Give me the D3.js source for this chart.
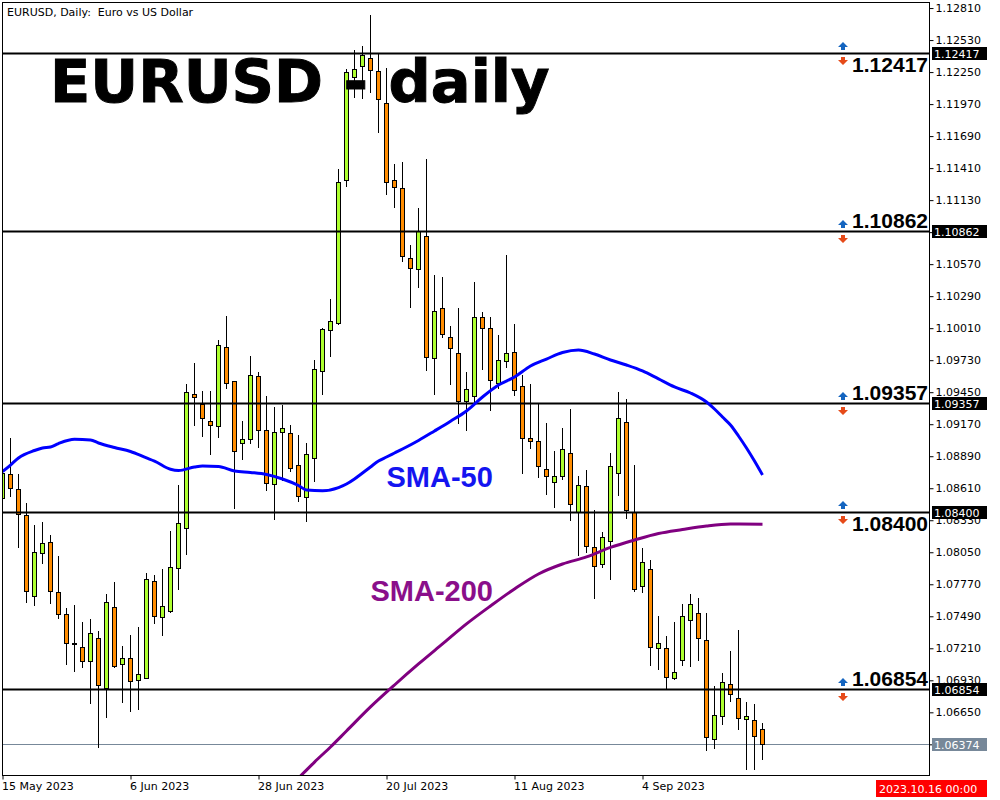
<!DOCTYPE html>
<html>
<head>
<meta charset="utf-8">
<script src="https://cdn.jsdelivr.net/npm/d3@7/dist/d3.min.js"></script>
<style>
body { margin: 0; background: #fff; }
</style>
</head>
<body>
<script>
var chartTitle = "EURUSD, Daily:  Euro vs US Dollar";
var bigTitle = "EURUSD - daily";
var firstDate = "2023-05-15";
var cursorLabel = "2023.10.16 00:00";

// daily candles, [open, high, low, close]
var candles = [
  [1.08525,1.08770,1.08507,1.08743],[1.08735,1.09049,1.08542,1.08612],[1.08603,1.08735,1.08096,1.08385],
  [1.08376,1.08481,1.07615,1.07711],[1.07667,1.08288,1.07589,1.08052],[1.08044,1.08315,1.07956,1.08131],
  [1.08140,1.08201,1.07606,1.07711],[1.07702,1.08017,1.07475,1.07510],[1.07510,1.07562,1.07073,1.07256],
  [1.07256,1.07589,1.07011,1.07248],[1.07221,1.07440,1.07046,1.07099],[1.07099,1.07466,1.06731,1.07344],
  [1.07300,1.07361,1.06347,1.06889],[1.06862,1.07685,1.06609,1.07615],[1.07571,1.07790,1.07046,1.07055],
  [1.07073,1.07230,1.06740,1.07125],[1.07125,1.07326,1.06661,1.06924],[1.06933,1.07396,1.06679,1.06985],
  [1.06950,1.07869,1.06950,1.07816],[1.07799,1.07851,1.07431,1.07492],[1.07484,1.07904,1.07326,1.07580],
  [1.07536,1.08236,1.07527,1.07921],[1.07912,1.08638,1.07729,1.08306],[1.08262,1.09522,1.08035,1.09452],
  [1.09434,1.09705,1.09163,1.09408],[1.09347,1.09461,1.09067,1.09224],[1.09198,1.09461,1.08910,1.09163],
  [1.09154,1.09907,1.09058,1.09863],[1.09845,1.10117,1.09487,1.09531],[1.09548,1.09548,1.08437,1.08936],
  [1.09006,1.09198,1.08866,1.09041],[1.09041,1.09767,1.09006,1.09601],[1.09592,1.09627,1.08971,1.09119],
  [1.09119,1.09417,1.08595,1.08656],[1.08647,1.09321,1.08341,1.09102],[1.09102,1.09338,1.08682,1.09137],
  [1.09093,1.09163,1.08761,1.08787],[1.08813,1.09076,1.08498,1.08542],[1.08533,1.09006,1.08323,1.08910],
  [1.08875,1.09732,1.08673,1.09653],[1.09636,1.10012,1.09434,1.10003],[1.09994,1.10265,1.09767,1.10073],
  [1.10055,1.11402,1.10047,1.11289],[1.11306,1.12277,1.11254,1.12251],[1.12207,1.12443,1.12032,1.12277],
  [1.12303,1.12478,1.12023,1.12400],[1.12373,1.12749,1.12076,1.12268],[1.12260,1.12408,1.11726,1.12015],
  [1.11980,1.12286,1.11184,1.11289],[1.11306,1.11446,1.11070,1.11245],[1.11236,1.11464,1.10598,1.10641],
  [1.10624,1.10738,1.10195,1.10536],[1.10528,1.11061,1.10370,1.10860],[1.10816,1.11490,1.09644,1.09758],
  [1.09749,1.10475,1.09434,1.10160],[1.10187,1.10458,1.09933,1.09959],[1.09933,1.10029,1.09522,1.09837],
  [1.09793,1.10187,1.09181,1.09373],[1.09373,1.09627,1.09119,1.09478],[1.09417,1.10414,1.09356,1.10108],
  [1.10108,1.10152,1.09653,1.10012],[1.10012,1.10108,1.09294,1.09557],[1.09531,1.09950,1.09487,1.09732],
  [1.09723,1.10650,1.09671,1.09793],[1.09802,1.10047,1.09426,1.09469],[1.09504,1.09601,1.08743,1.09049],
  [1.09049,1.09522,1.08962,1.09023],[1.09023,1.09356,1.08708,1.08805],[1.08778,1.09181,1.08560,1.08717],
  [1.08665,1.08936,1.08446,1.08717],[1.08717,1.09137,1.08691,1.08953],[1.08918,1.09303,1.08332,1.08472],
  [1.08402,1.08717,1.08026,1.08638],[1.08630,1.08770,1.08052,1.08105],[1.08096,1.08420,1.07650,1.07930],
  [1.07947,1.08227,1.07921,1.08184],[1.08149,1.08918,1.07816,1.08805],[1.08743,1.09452,1.08551,1.09224],
  [1.09189,1.09391,1.08350,1.08420],[1.08402,1.08813,1.07711,1.07729],[1.07755,1.08087,1.07702,1.07965],
  [1.07904,1.07982,1.07064,1.07221],[1.07213,1.07492,1.07029,1.07256],[1.07213,1.07318,1.06862,1.06959],
  [1.06950,1.07440,1.06941,1.07003],[1.07108,1.07597,1.07064,1.07492],[1.07457,1.07685,1.07055,1.07597],
  [1.07519,1.07650,1.07108,1.07300],[1.07283,1.07519,1.06320,1.06434],[1.06417,1.06880,1.06338,1.06626],
  [1.06618,1.06994,1.06548,1.06915],[1.06898,1.07186,1.06749,1.06810],[1.06775,1.07370,1.06504,1.06600],
  [1.06592,1.06740,1.06154,1.06618],[1.06583,1.06723,1.06154,1.06443],[1.06504,1.06557,1.06242,1.06374]
];

// moving averages, [bar, price]
var sma50 = [
  [0,1.08755],[1,1.08813],[2,1.08875],[4,1.08940],[5,1.08962],[6,1.08971],[7,1.09001],[9,1.09038],
  [11,1.09032],[12,1.09006],[14,1.08966],[16,1.08931],[18,1.08875],[19,1.08848],[21,1.08776],[22,1.08765],
  [24,1.08796],[25,1.08805],[27,1.08800],[29,1.08761],[31,1.08748],[33,1.08730],[35,1.08691],[37,1.08634],
  [38,1.08595],[40,1.08589],[42,1.08616],[43,1.08647],[44,1.08691],[45,1.08743],[46,1.08796],[47,1.08848],
  [48,1.08883],[49,1.08918],[50,1.08953],[52,1.09028],[54,1.09111],[56,1.09196],[58,1.09286],[60,1.09408],
  [62,1.09513],[64,1.09583],[66,1.09679],[68,1.09740],[70,1.09797],[72,1.09819],[74,1.09784],[76,1.09732],
  [78,1.09688],[80,1.09636],[82,1.09566],[84,1.09496],[86,1.09443],[88,1.09364],[89,1.09303],[90,1.09233],
  [91,1.09163],[92,1.09067],[93,1.08962],[94,1.08848],[95,1.08726]
];
var sma200 = [
  [36,1.06006],[37,1.06075],[39,1.06215],[41,1.06347],[43,1.06487],[46,1.06697],[49,1.06889],[52,1.07073],
  [55,1.07248],[58,1.07423],[61,1.07580],[64,1.07729],[67,1.07860],[70,1.07947],[73,1.08009],[76,1.08092],
  [79,1.08157],[82,1.08214],[85,1.08249],[88,1.08280],[91,1.08297],[95,1.08295]
];

var levels = [1.12417, 1.10862, 1.09357, 1.08400, 1.06854];
var levelSide = ["below", "above", "above", "below", "above"];
var lastPrice = 1.06374;

var yTicks = [1.12810,1.12530,1.12250,1.11970,1.11690,1.11410,1.11130,1.10850,1.10570,1.10290,1.10010,
  1.09730,1.09450,1.09170,1.08890,1.08610,1.08330,1.08050,1.07770,1.07490,1.07210,1.06930,1.06650,1.06370];
var xTickDates = ["2023-05-15","2023-06-06","2023-06-28","2023-07-20","2023-08-11","2023-09-04"];

var smaLabels = [
  {text: "SMA-50", bar: 48, price: 1.08621, color: "#1414f0"},
  {text: "SMA-200", bar: 46, price: 1.07624, color: "#8a0f8a"}
];

var width = 1000, height = 800;
var plotLeft = 2, plotTop = 2, plotRight = 929, plotBottom = 775;
var smallFont = "DejaVu Sans, sans-serif";
var boldFont = "Liberation Sans, Arial, sans-serif";

// trading days, weekends skipped
var parseDate = d3.timeParse("%Y-%m-%d");
var dates = [];
var day = parseDate(firstDate);
while (dates.length < candles.length) {
  if (day.getDay() != 0 && day.getDay() != 6) dates.push(day);
  day = d3.timeDay.offset(day, 1);
}
var fmtDate = d3.timeFormat("%-d %b %Y");
var tickBars = xTickDates.map(function(s) {
  var t = +parseDate(s);
  return dates.findIndex(function(d) { return +d == t; });
});

var x = d3.scaleLinear().domain([0, 100]).range([2.5, 802.5]);
var y = d3.scaleLinear().domain([1.06093, 1.12863]).range([776, 2]);

var svg = d3.select("body").append("svg")
  .attr("width", width)
  .attr("height", height);

svg.append("defs").append("clipPath").attr("id", "plotclip")
  .append("rect")
  .attr("x", plotLeft + 1).attr("y", plotTop + 1)
  .attr("width", plotRight - plotLeft - 1).attr("height", plotBottom - plotTop - 1);

var plot = svg.append("g").attr("clip-path", "url(#plotclip)");

// bid line
plot.append("line")
  .attr("x1", plotLeft).attr("x2", plotRight)
  .attr("y1", Math.round(y(lastPrice)) + 0.5).attr("y2", Math.round(y(lastPrice)) + 0.5)
  .attr("stroke", "#778899").attr("stroke-width", 1);

var candle = plot.selectAll("g.candle")
  .data(candles)
  .enter().append("g").attr("class", "candle");

candle.append("line")
  .attr("x1", function(d, i) { return x(i); })
  .attr("x2", function(d, i) { return x(i); })
  .attr("y1", function(d) { return Math.round(y(d[1])); })
  .attr("y2", function(d) { return Math.round(y(d[2])) + 1; })
  .attr("stroke", "#000").attr("stroke-width", 1);

candle.append("rect")
  .attr("x", function(d, i) { return x(i) - 2; })
  .attr("y", function(d) { return Math.round(y(Math.max(d[0], d[3]))) + 0.5; })
  .attr("width", 4)
  .attr("height", function(d) {
    return Math.max(1, Math.round(y(Math.min(d[0], d[3]))) - Math.round(y(Math.max(d[0], d[3]))));
  })
  .attr("fill", function(d) { return d[3] >= d[0] ? "#adff2f" : "#ff8c00"; })
  .attr("stroke", "#000").attr("stroke-width", 1);

// support / resistance levels
plot.selectAll("line.level")
  .data(levels)
  .enter().append("line").attr("class", "level")
  .attr("x1", plotLeft).attr("x2", plotRight)
  .attr("y1", function(d) { return Math.round(y(d)) + 0.5; })
  .attr("y2", function(d) { return Math.round(y(d)) + 0.5; })
  .attr("stroke", "#000").attr("stroke-width", 2);

var smaLine = d3.line()
  .x(function(d) { return x(d[0]); })
  .y(function(d) { return y(d[1]); })
  .curve(d3.curveMonotoneX);

plot.append("path").datum(sma200)
  .attr("d", smaLine)
  .attr("fill", "none").attr("stroke", "#800080").attr("stroke-width", 3);
plot.append("path").datum(sma50)
  .attr("d", smaLine)
  .attr("fill", "none").attr("stroke", "#0000ff").attr("stroke-width", 3);

// frame
svg.append("rect")
  .attr("x", plotLeft + 0.5).attr("y", plotTop + 0.5)
  .attr("width", plotRight - plotLeft).attr("height", plotBottom - plotTop)
  .attr("fill", "none").attr("stroke", "#000").attr("stroke-width", 1);

// price axis
var yAxis = svg.append("g")
  .attr("transform", "translate(" + (plotRight + 0.5) + ",0)")
  .call(d3.axisRight(y).tickValues(yTicks).tickSize(4).tickPadding(2).tickFormat(d3.format(".5f")));
yAxis.select(".domain").remove();
yAxis.selectAll("text").attr("font-family", smallFont).attr("font-size", 11).attr("fill", "#000");
yAxis.selectAll("line").attr("stroke", "#000");

// time axis
var xAxis = svg.append("g")
  .attr("transform", "translate(0," + (plotBottom + 0.5) + ")")
  .call(d3.axisBottom(x).tickValues(tickBars).tickSize(4).tickPadding(3)
    .tickFormat(function(i) { return fmtDate(dates[i]); }));
xAxis.select(".domain").remove();
xAxis.selectAll("text").attr("text-anchor", "start").attr("dx", -1)
  .attr("font-family", smallFont).attr("font-size", 11).attr("fill", "#000");
xAxis.selectAll("line").attr("stroke", "#000");

// price tags on the axis
var tags = levels.map(function(v) { return {v: v, bg: "#000"}; })
  .concat([{v: lastPrice, bg: "#778899"}]);
var tag = svg.selectAll("g.tag").data(tags).enter().append("g").attr("class", "tag")
  .attr("transform", function(d) { return "translate(932," + (Math.round(y(d.v)) - 6) + ")"; });
tag.append("rect").attr("width", 55).attr("height", 13).attr("fill", function(d) { return d.bg; });
tag.append("text").attr("x", 2).attr("y", 11)
  .attr("font-family", smallFont).attr("font-size", 11).attr("fill", "#fff")
  .text(function(d) { return d3.format(".5f")(d.v); });

// level labels with arrows
var arrowX = 843;
function upArrow(cx, t) {
  return "M" + cx + "," + t + "L" + (cx + 5) + "," + (t + 5) + "L" + (cx + 2) + "," + (t + 5) +
    "L" + (cx + 2) + "," + (t + 8) + "L" + (cx - 2) + "," + (t + 8) + "L" + (cx - 2) + "," + (t + 5) +
    "L" + (cx - 5) + "," + (t + 5) + "Z";
}
function downArrow(cx, t) {
  return "M" + cx + "," + (t + 8) + "L" + (cx + 5) + "," + (t + 3) + "L" + (cx + 2) + "," + (t + 3) +
    "L" + (cx + 2) + "," + t + "L" + (cx - 2) + "," + t + "L" + (cx - 2) + "," + (t + 3) +
    "L" + (cx - 5) + "," + (t + 3) + "Z";
}
levels.forEach(function(v, i) {
  var ly = Math.round(y(v));
  svg.append("path").attr("d", upArrow(arrowX, ly - 11)).attr("fill", "#1565c0");
  svg.append("path").attr("d", downArrow(arrowX, ly + 4)).attr("fill", "#e64a19");
  svg.append("text")
    .attr("x", 928)
    .attr("y", levelSide[i] == "below" ? ly + 19 : ly - 3)
    .attr("text-anchor", "end")
    .attr("font-family", boldFont)
    .attr("font-weight", "bold").attr("font-size", 21)
    .attr("fill", "#000")
    .text(d3.format(".5f")(v));
});

// moving average labels
svg.selectAll("text.smalabel").data(smaLabels).enter().append("text").attr("class", "smalabel")
  .attr("x", function(d) { return x(d.bar); })
  .attr("y", function(d) { return y(d.price); })
  .attr("font-family", boldFont)
  .attr("font-weight", "bold").attr("font-size", 29)
  .attr("fill", function(d) { return d.color; })
  .text(function(d) { return d.text; });

// titles
svg.append("text")
  .attr("x", 7).attr("y", 16)
  .attr("font-family", smallFont).attr("font-size", 11).attr("fill", "#000")
  .style("white-space", "pre")
  .text(chartTitle);

svg.append("text")
  .attr("x", 50).attr("y", 102)
  .attr("font-family", "DejaVu Sans, sans-serif")
  .attr("font-weight", "bold").attr("font-size", 59)
  .attr("fill", "#000").attr("stroke", "#000").attr("stroke-width", 1)
  .style("white-space", "pre")
  .text(bigTitle);

// cursor date tag
var ct = svg.append("g").attr("transform", "translate(876,780)");
ct.append("rect").attr("width", 111).attr("height", 17).attr("fill", "#ff0000");
ct.append("text").attr("x", 3).attr("y", 13)
  .attr("font-family", smallFont).attr("font-size", 11).attr("fill", "#fff").text(cursorLabel);
</script>
</body>
</html>
